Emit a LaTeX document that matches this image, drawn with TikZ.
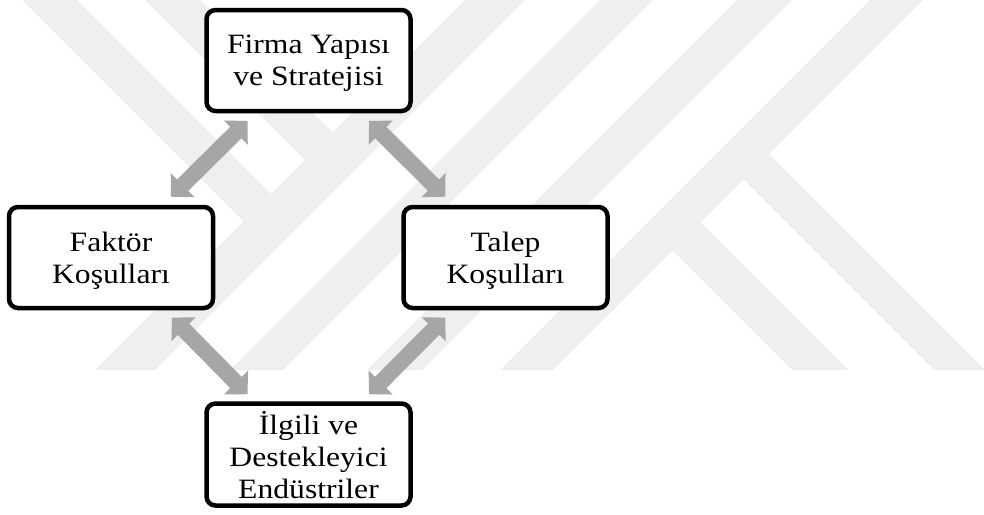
\documentclass[tikz,border=0pt]{standalone}
\usepackage{fontspec}
\setmainfont[FakeStretch=1.13]{Liberation Serif}
\usetikzlibrary{arrows.meta,calc}
\definecolor{wm}{RGB}{239,239,239}
\definecolor{arrowgray}{RGB}{166,166,166}
\tikzset{
  box/.style={draw=black, line width=4.5pt, rounded corners=9pt, fill=white,
    minimum width=204pt, minimum height=101pt, align=center, inner sep=0pt,
    font=\fontsize{28pt}{32pt}\selectfont},
  blockarrow/.style={draw=arrowgray, line width=16pt,
    arrows={Triangle[length=16.5pt,width=33pt,fill=arrowgray]-Triangle[length=16.5pt,width=33pt,fill=arrowgray]}},
  wmband/.style={fill=wm, draw=none}
}
\newcommand{\lastline}[1]{\raisebox{0pt}[\height][0pt]{#1}}
\begin{document}
\begin{tikzpicture}[x=1pt,y=-1pt]
\useasboundingbox (0,0) rectangle (984,514);
\fill[white] (0,0) rectangle (984,514);
% watermark
\begin{scope}
\clip (0,0) rectangle (984,370);
\fill[wmband] (465,0) -- (525,0) -- (155,370) -- (95,370) -- cycle;
\fill[wmband] (22,0) -- (77,0) -- (271,194) -- (243.5,221.5) -- cycle;
\fill[wmband] (145,0) -- (200,0) -- (332.5,132.5) -- (305,160) -- cycle;
\fill[wmband] (600,0) -- (653,0) -- (283,370) -- (230,370) -- cycle;
\fill[wmband] (737,0) -- (792,0) -- (422,370) -- (367,370) -- cycle;
\fill[wmband] (870,0) -- (923,0) -- (553,370) -- (500,370) -- cycle;
\fill[wmband] (768,153) -- (985,370) -- (934,370) -- (742,178) -- cycle;
\fill[wmband] (698,220) -- (848,370) -- (792,370) -- (670,248) -- cycle;
\end{scope}
% boxes
\node[box] (firm) at (308.5,60.5) {Firma Yapısı\\\lastline{ve Stratejisi}};
\node[box] (factor) at (111,257.5) {Faktör\\\lastline{Koşulları}};
\node[box] (demand) at (505.5,257.5) {Talep\\\lastline{Koşulları}};
\node[box, minimum height=102pt] (related) at (308.5,454.5) {İlgili ve\\Destekleyici\\\lastline{Endüstriler}};
% arrow end points
\coordinate (a1) at ($(firm.south west)+(43.3,7.7)$);
\coordinate (a2) at ($(factor.north east)+(-44.3,-8)$);
\coordinate (b1) at ($(firm.south east)+(-43.7,7.7)$);
\coordinate (b2) at ($(demand.north west)+(44,-8)$);
\coordinate (c1) at ($(factor.south east)+(-43.3,7.3)$);
\coordinate (c2) at ($(related.north west)+(43.3,-7)$);
\coordinate (d1) at ($(demand.south west)+(44,7.3)$);
\coordinate (d2) at ($(related.north east)+(-43.7,-7)$);
\draw[blockarrow] (a2) -- (a1);
\draw[blockarrow] (b1) -- (b2);
\draw[blockarrow] (c1) -- (c2);
\draw[blockarrow] (d1) -- (d2);
\end{tikzpicture}
\end{document}
